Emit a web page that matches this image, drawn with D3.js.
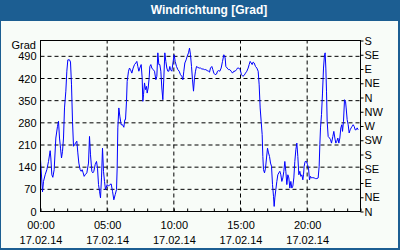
<!DOCTYPE html>
<html>
<head>
<meta charset="utf-8">
<script src="https://cdn.jsdelivr.net/npm/d3@7"></script>
<style>
  body { margin: 0; background: #fff; }
  svg { display: block; }
</style>
</head>
<body>
<svg id="chart" width="400" height="250"></svg>
<script>
var title = "Windrichtung [Grad]";
var unitLabel = "Grad";

// hours after 17.02.14 00:00
var hours = [
  0.0, 0.15, 0.225, 0.35, 0.475, 0.6, 0.725, 0.775, 0.85, 0.925, 1.025, 1.15, 1.275, 1.35, 1.425, 1.5,
  1.575, 1.65, 1.725, 1.8, 1.9, 1.975, 2.05, 2.175, 2.25, 2.325, 2.4, 2.475, 2.55, 2.625, 2.725, 2.8,
  2.875, 2.975, 3.05, 3.125, 3.2, 3.275, 3.35, 3.475, 3.6, 3.675, 3.75, 3.85, 3.925, 4.0, 4.1, 4.2,
  4.275, 4.35, 4.425, 4.5, 4.575, 4.65, 4.725,
  4.8, 4.875, 5.0, 5.1, 5.2, 5.3, 5.4, 5.5, 5.6, 5.7, 5.75, 5.8, 5.875, 5.95, 6.05, 6.15, 6.25, 6.325,
  6.375, 6.45, 6.5, 6.6, 6.675, 6.75, 6.85, 6.95, 7.05, 7.15, 7.225, 7.3, 7.375, 7.45, 7.55, 7.625,
  7.675, 7.725, 7.8, 7.875, 7.95, 8.0, 8.075, 8.15, 8.2, 8.275, 8.35, 8.45, 8.55, 8.65, 8.725, 8.8,
  8.875, 8.95, 9.025, 9.1, 9.175, 9.25, 9.325, 9.4, 9.475, 9.55, 9.625, 9.7,
  9.75, 9.85, 9.95, 10.025, 10.1, 10.2, 10.3, 10.4, 10.5, 10.6, 10.675, 10.75, 10.825, 10.925, 11.0,
  11.1, 11.175, 11.25, 11.325, 11.4, 11.475, 11.55, 11.625, 11.7, 11.8, 11.9, 12.0, 12.1, 12.2, 12.3,
  12.4, 12.5, 12.6, 12.675, 12.75, 12.85, 12.925, 13.0, 13.1, 13.2, 13.275, 13.35, 13.45, 13.55, 13.65,
  13.75, 13.85, 13.9, 14.0, 14.1, 14.2, 14.3, 14.4, 14.5, 14.6, 14.7,
  14.775, 14.875, 14.975, 15.075, 15.175, 15.275, 15.375, 15.475, 15.575, 15.65, 15.725, 15.8, 15.875,
  15.95, 16.025, 16.125, 16.225, 16.325, 16.4, 16.475, 16.55, 16.625, 16.675, 16.725, 16.8, 16.875,
  16.95, 17.025, 17.1, 17.175, 17.25, 17.325, 17.4, 17.475, 17.525, 17.575, 17.65, 17.725, 17.8,
  17.875, 17.95, 18.025, 18.1, 18.175, 18.25, 18.325, 18.4, 18.475, 18.55, 18.625, 18.7, 18.775,
  18.85, 18.925, 19.0, 19.075, 19.15, 19.225, 19.3, 19.375, 19.45, 19.525, 19.6, 19.675,
  19.725, 19.775, 19.85, 19.95, 20.025, 20.1, 20.175, 20.25, 20.325, 20.425, 20.525, 20.625, 20.725,
  20.825, 20.9, 20.95, 21.0, 21.075, 21.15, 21.225, 21.3, 21.35, 21.4, 21.45, 21.5, 21.575, 21.675,
  21.75, 21.825, 21.925, 22.0, 22.075, 22.15, 22.225, 22.3, 22.375, 22.45, 22.525, 22.6, 22.65,
  22.725, 22.8, 22.875, 22.925, 23.0, 23.075, 23.15, 23.225, 23.3, 23.375, 23.45, 23.525, 23.6,
  23.675, 23.75, 23.825
];
var degrees = [
  164, 62, 95, 116, 132, 158, 192, 169, 116, 108, 132, 232, 269, 285, 232, 200,
  169, 190, 232, 327, 380, 443, 479, 479, 472, 400, 285, 206, 210, 216, 222, 185,
  153, 132, 127, 132, 122, 111, 116, 122, 153, 237, 179, 127, 122, 127, 148, 158,
  137, 85, 64, 43, 106, 200, 127,
  95, 69, 85, 80, 85, 87, 64, 37, 53, 69, 137, 264, 327, 301, 274, 274, 266, 290,
  290, 348, 411, 443, 453, 448, 437, 453, 464, 469, 474, 458, 443, 453, 464, 422,
  348, 369, 406, 385, 395, 374, 390, 422, 458, 464, 453, 448, 443, 416, 427, 501,
  464, 464, 443, 390, 353, 422, 501, 474, 453, 443, 443, 458,
  448, 443, 474, 495, 474, 458, 448, 443, 432, 427, 416, 443, 469, 479, 490,
  501, 516, 495, 458, 416, 380, 422, 443, 458, 455, 453, 453, 450, 450, 448,
  448, 445, 443, 440, 453, 458, 448, 437, 432, 434, 443, 445, 443, 453, 474,
  495, 485, 458, 453, 448, 448, 443, 437, 443, 443, 448,
  453, 453, 448, 432, 427, 430, 437, 443, 453, 464, 474, 469, 464,
  472, 469, 458, 453, 443, 400, 327, 285, 243, 174, 132, 122, 137,
  169, 200, 185, 174, 153, 143, 85, 48, 16, 43, 69, 95, 116,
  122, 127, 116, 95, 106, 127, 158, 127, 85, 116, 106, 74, 95,
  74, 80, 106, 158, 195, 216, 174, 116, 127, 111, 116, 100,
  116, 143, 158, 158, 148, 137, 100, 111, 106, 107, 106, 104, 104,
  106, 143, 211, 264, 306, 374, 453, 495, 501, 453, 380, 285, 237, 232,
  227, 216, 237, 253, 232, 216, 222, 232, 216, 232, 264, 274, 253,
  285, 353, 348, 327, 290, 274, 248, 258, 264, 269, 274, 269, 258,
  258, 264, 258
];

var leftTicks = [0, 70, 140, 210, 280, 350, 420, 490];
var rightTicks = [0, 45, 90, 135, 180, 225, 270, 315, 360, 405, 450, 495, 540];
var compass = ["N", "NE", "E", "SE", "S", "SW", "W", "NW", "N", "NE", "E", "SE", "S"];
var labelHours = [0, 5, 10, 15, 20];

var day0 = new Date(2014, 1, 17, 0, 0);
var day1 = new Date(2014, 1, 18, 0, 0);
function atHour(h) { return new Date(day0.getTime() + h * 3600000); }

var points = hours.map(function (h, i) { return {date: atHour(h), value: degrees[i]}; });

var svg = d3.select("#chart");
var font = "'Liberation Sans', Arial, sans-serif";

// frame + title bar
svg.append('rect')
    .attr('width', 400).attr('height', 250)
    .attr('fill', "#1c5e92");
svg.append('rect')
    .attr('x', 1).attr('y', 21).attr('width', 397).attr('height', 227)
    .attr('fill', "#f8fcf8");
svg.append('text')
    .text(title)
    .attr('x', 209).attr('y', 14)
    .attr('text-anchor', "middle")
    .attr('fill', "#fff")
    .attr('font-family', font).attr('font-size', 12).attr('font-weight', "bold");

var x = d3.scaleTime().domain([day0, day1]).range([40.5, 360.5]);
var y = d3.scaleLinear().domain([0, 540]).range([211.5, 40.5]);

// grid
var grid = svg.append('g')
    .attr('stroke', "#000").attr('stroke-width', 1).attr('stroke-dasharray', "4,3");
grid.selectAll('line.h').data(leftTicks.slice(1)).enter().append('line')
    .attr('class', "h")
    .attr('x1', x.range()[0]).attr('x2', x.range()[1])
    .attr('y1', function (d) { return y(d); }).attr('y2', function (d) { return y(d); });
grid.selectAll('line.v').data(labelHours.slice(1)).enter().append('line')
    .attr('class', "v")
    .attr('x1', function (h) { return x(atHour(h)); }).attr('x2', function (h) { return x(atHour(h)); })
    .attr('y1', y.range()[0]).attr('y2', y.range()[1]);

// data line
svg.append('path')
    .datum(points)
    .attr('fill', "none")
    .attr('stroke', "#0000ff")
    .attr('stroke-width', 1)
    .attr('d', d3.line()
        .x(function (d) { return x(d.date); })
        .y(function (d) { return y(d.value); }));

// plot box
svg.append('rect')
    .attr('x', 40.5).attr('y', 40.5).attr('width', 320).attr('height', 171)
    .attr('fill', "none").attr('stroke', "#000");

function styleAxis(g) {
    g.select('.domain').remove();
    g.attr('font-family', font).attr('font-size', 11);
    g.selectAll('text').attr('fill', "#000");
    g.selectAll('line').attr('stroke', "#000");
}

// left axis
svg.append('g')
    .attr('transform', "translate(40.5,0)")
    .call(d3.axisLeft(y).tickValues(leftTicks).tickSize(0).tickPadding(4))
    .call(styleAxis);
svg.append('text')
    .text(unitLabel)
    .attr('x', 36).attr('y', 49)
    .attr('text-anchor', "end")
    .attr('font-family', font).attr('font-size', 11);

// right axis
svg.append('g')
    .attr('transform', "translate(360.5,0)")
    .call(d3.axisRight(y).tickValues(rightTicks).tickSize(3).tickPadding(1)
        .tickFormat(function (d, i) { return compass[i]; }))
    .call(styleAxis);

// bottom: hourly minor ticks, then time and date labels
svg.append('g')
    .attr('transform', "translate(0,211.5)")
    .call(d3.axisBottom(x).ticks(d3.timeHour.every(1)).tickSize(-3).tickFormat(""))
    .call(styleAxis);
svg.append('g')
    .attr('transform', "translate(0,211.5)")
    .call(d3.axisBottom(x).tickValues(labelHours.map(atHour)).tickSize(0).tickPadding(10)
        .tickFormat(d3.timeFormat("%H:%M")))
    .call(styleAxis);
svg.append('g')
    .attr('transform', "translate(0,211.5)")
    .call(d3.axisBottom(x).tickValues(labelHours.map(atHour)).tickSize(0).tickPadding(25)
        .tickFormat(d3.timeFormat("%d.%m.%y")))
    .call(styleAxis);
</script>
</body>
</html>
